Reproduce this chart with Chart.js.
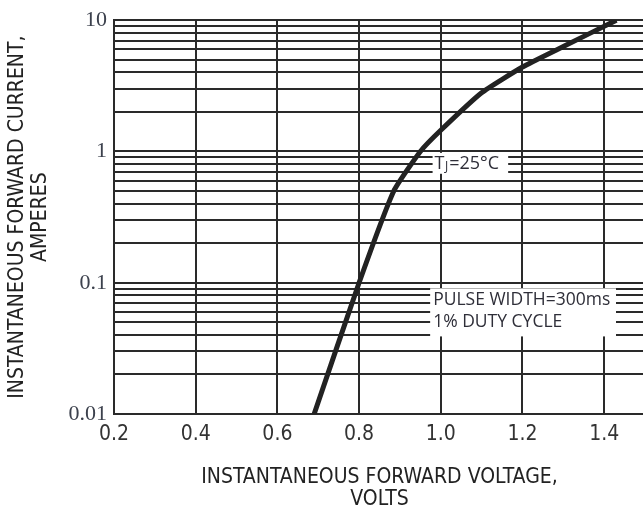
<!DOCTYPE html>
<html>
<head>
<meta charset="utf-8">
<script src="https://cdn.jsdelivr.net/npm/chart.js@4.4.0/dist/chart.umd.min.js"></script>
<style>
    html, body { margin: 0; padding: 0; background: #fff; overflow: hidden; }
    .wrap { width: 643px; height: 515px; overflow: hidden; }
    canvas { display: block; }
</style>
</head>
<body>
<div class="wrap"><canvas id="ivChart" width="646" height="515"></canvas></div>
<script>
// forward voltage (V) against instantaneous forward current (A)
const voltage = [0.69, 0.8, 0.885, 0.95, 1.0, 1.1, 1.2, 1.3, 1.43];
const current = [0.01, 0.1, 0.5, 1.0, 1.45, 2.8, 4.4, 6.3, 10];

// axis ticks
const xTicks = [0.2, 0.4, 0.6, 0.8, 1.0, 1.2, 1.4];
const yLabels = [0.01, 0.1, 1, 10];
const yDecades = [0.01, 0.1, 1];
const yMinor = [1, 2, 3, 4, 5, 6, 7, 8, 9];

const narrow = "'Liberation Sans Narrow', 'DejaVu Sans Condensed', 'Roboto', sans-serif";
const noteFont = "'Open Sans', 'Noto Sans', sans-serif";

// grid values: every 1..9 step in each decade, plus the top line
const yGrid = [];
yDecades.forEach(d => yMinor.forEach(m => yGrid.push(+(d * m).toPrecision(3))));
yGrid.push(10);

const notesPlugin = {
    id: 'notes',
    afterDatasetsDraw(chart) {
        const { ctx, scales: { x, y } } = chart;
        ctx.save();

        // Tj box
        let bx0 = x.getPixelForValue(0.98), bx1 = x.getPixelForValue(1.165);
        let by0 = y.getPixelForValue(0.976), by1 = y.getPixelForValue(0.676);
        ctx.fillStyle = '#fff';
        ctx.fillRect(bx0, by0, bx1 - bx0, by1 - by0);
        ctx.fillStyle = '#2e2e38';
        ctx.textBaseline = 'middle';
        ctx.textAlign = 'left';
        const cy = (by0 + by1) / 2 + 1;
        let tx = bx0 + 2;
        ctx.font = '18px ' + noteFont;
        ctx.fillText('T', tx, cy);
        tx += ctx.measureText('T').width + 0.5;
        ctx.font = '12px ' + noteFont;
        ctx.fillText('J', tx, cy + 2);
        tx += ctx.measureText('J').width + 1;
        ctx.font = '18px ' + noteFont;
        ctx.fillText('=25°C', tx, cy);

        // pulse box
        bx0 = x.getPixelForValue(0.974); bx1 = x.getPixelForValue(1.429);
        by0 = y.getPixelForValue(0.0906); by1 = y.getPixelForValue(0.039);
        ctx.fillStyle = '#fff';
        ctx.fillRect(bx0, by0, bx1 - bx0, by1 - by0);
        ctx.fillStyle = '#2e2e38';
        ctx.font = '17.5px ' + noteFont;
        ctx.fillText('PULSE WIDTH=300ms', bx0 + 3, y.getPixelForValue(0.0734));
        ctx.fillText('1% DUTY CYCLE', bx0 + 3, y.getPixelForValue(0.05));

        ctx.restore();
    }
};

new Chart(document.getElementById('ivChart'), {
    type: 'line',
    data: {
        datasets: [{
            data: voltage.map((v, i) => ({ x: v, y: current[i] })),
            borderColor: '#222',
            borderWidth: 5,
            borderJoinStyle: 'round',
            borderCapStyle: 'butt',
            pointRadius: 0,
            tension: 0.15,
            fill: false
        }]
    },
    options: {
        responsive: false,
        animation: false,
        layout: { padding: { top: 17, right: 1, left: 0, bottom: 0 } },
        plugins: {
            legend: { display: false },
            tooltip: { enabled: false }
        },
        scales: {
            x: {
                type: 'linear',
                min: 0.2,
                max: 1.5,
                afterBuildTicks: s => { s.ticks = xTicks.map(v => ({ value: v })); },
                afterFit: s => { s.height = 101; },
                grid: { color: '#2a2a2a', lineWidth: 2, drawTicks: false },
                border: { color: '#2a2a2a', width: 2 },
                ticks: {
                    autoSkip: false,
                    maxRotation: 0,
                    padding: 8,
                    color: '#333',
                    font: { family: narrow, size: 21 },
                    callback: v => v.toFixed(1)
                },
                title: {
                    display: true,
                    text: ['INSTANTANEOUS FORWARD VOLTAGE,', 'VOLTS'],
                    color: '#222',
                    font: { family: narrow, size: 21, lineHeight: 1.05 },
                    padding: { top: 0, bottom: 4 }
                }
            },
            y: {
                type: 'logarithmic',
                min: 0.01,
                max: 10,
                afterBuildTicks: s => { s.ticks = yGrid.map(v => ({ value: v })); },
                afterFit: s => { s.width = 114; },
                grid: { color: '#2a2a2a', lineWidth: 2, drawTicks: false },
                border: { color: '#2a2a2a', width: 2 },
                ticks: {
                    autoSkip: false,
                    padding: 7,
                    color: '#3c414d',
                    font: { family: "'Liberation Serif', serif", size: 22 },
                    callback: v => yLabels.some(l => Math.abs(l - v) < 1e-9) ? String(v) : ''
                },
                title: {
                    display: true,
                    text: ['INSTANTANEOUS FORWARD CURRENT,', 'AMPERES'],
                    color: '#222',
                    font: { family: narrow, size: 21, lineHeight: 1.05 },
                    padding: { top: 7, bottom: 0 }
                }
            }
        }
    },
    plugins: [notesPlugin]
});
</script>
</body>
</html>
